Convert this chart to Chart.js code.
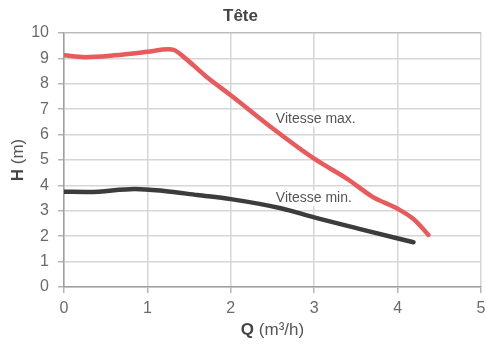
<!DOCTYPE html>
<html>
<head>
<meta charset="utf-8">
<script src="https://cdn.jsdelivr.net/npm/chart.js@4/dist/chart.umd.min.js"></script>
<style>
html,body{margin:0;padding:0;background:#fff;}
#wrap{width:486px;height:345px;position:relative;}
</style>
</head>
<body>
<div id="wrap"><canvas id="c" width="486" height="345"></canvas></div>
<script>
const chartTitle = 'Tête';
const xTicks = [0, 1, 2, 3, 4, 5];
const yTicks = [0, 1, 2, 3, 4, 5, 6, 7, 8, 9, 10];
const qMax = [0, 0.25, 0.6, 1.0, 1.25, 1.32, 1.42, 1.7, 2.0, 2.5, 3.0, 3.4, 3.7, 4.0, 4.2, 4.37];
const hMax = [9.12, 9.05, 9.12, 9.26, 9.36, 9.33, 9.1, 8.3, 7.55, 6.25, 5.05, 4.25, 3.55, 3.08, 2.65, 2.05];
const qMin = [0, 0.3, 0.85, 1.2, 1.6, 2.0, 2.6, 3.0, 3.6, 4.19];
const hMin = [3.75, 3.74, 3.86, 3.78, 3.62, 3.46, 3.1, 2.74, 2.24, 1.76];
const labelMax = 'Vitesse max.';
const labelMin = 'Vitesse min.';
const xTitleBold = 'Q', xTitleRest = ' (m³/h)';
const yTitleBold = 'H', yTitleRest = ' (m)';

const FONT = '"Liberation Sans", Arial, sans-serif';

const pts = (xs, ys) => xs.map((x, i) => ({x, y: ys[i]}));

const decor = {
  id: 'decor',
  beforeDatasetsDraw(chart) {
    const {ctx, scales:{x, y}} = chart;
    ctx.save();
    ctx.font = '14px ' + FONT;
    ctx.textBaseline = 'middle';
    ctx.textAlign = 'left';
    const lab = (t, qx, hy) => {
      const px = x.getPixelForValue(qx), py = y.getPixelForValue(hy);
      const w = ctx.measureText(t).width;
      ctx.fillStyle = 'rgba(255,255,255,0.85)';
      ctx.fillRect(px - 2, py - 8, w + 4, 16);
      ctx.fillStyle = '#555';
      ctx.fillText(t, px, py);
    };
    lab(labelMax, 2.54, 6.62);
    lab(labelMin, 2.54, 3.5);
    ctx.restore();
  },
  afterDatasetsDraw(chart) {
    const {ctx, chartArea} = chart;
    ctx.save();
    const mixed = (b, r, cx, cy) => {
      ctx.font = 'bold 17px ' + FONT;
      const wb = ctx.measureText(b).width;
      ctx.font = '17px ' + FONT;
      const wr = ctx.measureText(r).width;
      const sx = cx - (wb + wr) / 2;
      ctx.textAlign = 'left';
      ctx.textBaseline = 'middle';
      ctx.fillStyle = '#444';
      ctx.font = 'bold 17px ' + FONT;
      ctx.fillText(b, sx, cy);
      ctx.fillStyle = '#555';
      ctx.font = '17px ' + FONT;
      ctx.fillText(r, sx + wb, cy);
    };
    mixed(xTitleBold, xTitleRest, (chartArea.left + chartArea.right) / 2, 330);
    ctx.translate(18, (chartArea.top + chartArea.bottom) / 2);
    ctx.rotate(-Math.PI / 2);
    mixed(yTitleBold, yTitleRest, 0, 0);
    ctx.restore();
  }
};

new Chart(document.getElementById('c'), {
  type: 'line',
  data: {
    datasets: [
      {label: labelMax, data: pts(qMax, hMax), borderColor: '#e85a5c', borderWidth: 4.5,
       pointRadius: 0, cubicInterpolationMode: 'monotone', borderCapStyle: 'round', borderJoinStyle: 'round'},
      {label: labelMin, data: pts(qMin, hMin), borderColor: '#3c3c3c', borderWidth: 4.5,
       pointRadius: 0, cubicInterpolationMode: 'monotone', borderCapStyle: 'round', borderJoinStyle: 'round'}
    ]
  },
  options: {
    responsive: false,
    animation: false,
    layout: {padding: {left: 0, right: 5, top: 0, bottom: 0}},
    plugins: {
      legend: {display: false},
      tooltip: {enabled: false},
      title: {display: true, text: chartTitle, color: '#444',
              font: {family: FONT, size: 17, weight: 'bold'}, padding: {top: 6, bottom: 6.6}}
    },
    scales: {
      x: {
        type: 'linear', min: xTicks[0], max: xTicks[xTicks.length - 1],
        afterBuildTicks: s => { s.ticks = xTicks.map(v => ({value: v})); },
        afterFit: s => { s.height = 58; s.paddingRight = 0; s.paddingLeft = 0; },
        ticks: {color: '#6b6b6b', font: {family: FONT, size: 16}, padding: 6},
        grid: {color: '#d6d6d6', lineWidth: 1.5, tickLength: 6, tickColor: '#b5b5b5'},
        border: {color: '#a0a0a0', width: 1.5}
      },
      y: {
        min: yTicks[0], max: yTicks[yTicks.length - 1],
        afterBuildTicks: s => { s.ticks = yTicks.map(v => ({value: v})); },
        afterFit: s => { s.width = 64; s.paddingTop = 0; s.paddingBottom = 0; },
        ticks: {color: '#6b6b6b', font: {family: FONT, size: 16}, padding: 9},
        grid: {color: c => c.tick && c.tick.value === 10 ? '#bdbdbd' : '#d6d6d6', lineWidth: 1.5,
               tickLength: 6, tickColor: '#b5b5b5'},
        border: {color: '#a0a0a0', width: 1.5}
      }
    }
  },
  plugins: [decor]
});
</script>
</body>
</html>
